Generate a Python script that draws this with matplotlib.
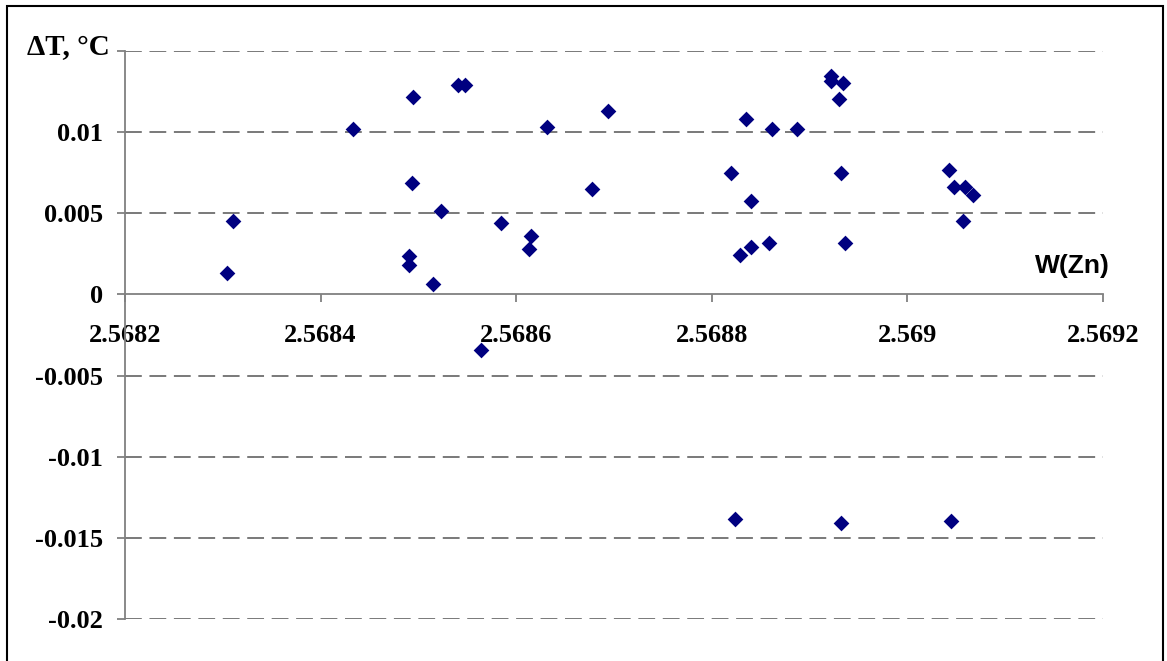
import matplotlib
matplotlib.use("Agg")
import matplotlib.pyplot as plt
from matplotlib.patches import Rectangle

# W(Zn) и ΔT
w_zn = [2.568304, 2.568310, 2.568433, 2.568494, 2.568540, 2.568548,
        2.568694, 2.568631, 2.568835, 2.568862, 2.568493, 2.568523,
        2.568678, 2.568820, 2.568840, 2.568584, 2.568615, 2.568613,
        2.568490, 2.568490, 2.568515, 2.568829, 2.568840, 2.568858,
        2.568564, 2.568922, 2.568922, 2.568934, 2.568930, 2.568887,
        2.568932, 2.568936, 2.569043, 2.569048, 2.569059, 2.569067,
        2.569057, 2.568824, 2.568932, 2.569045]
delta_t = [0.00133, 0.00452, 0.0102, 0.01216, 0.01292, 0.01292,
           0.0113, 0.01033, 0.0108, 0.01019, 0.00688, 0.00513,
           0.00651, 0.00749, 0.00575, 0.00441, 0.00359, 0.00277,
           0.00236, 0.00179, 0.00062, 0.00246, 0.00293, 0.00318,
           -0.00345, 0.01345, 0.01314, 0.01302, 0.01205, 0.01019,
           0.00749, 0.00318, 0.00764, 0.00663, 0.00663, 0.00612,
           0.00452, -0.01383, -0.01407, -0.01395]

x_ticks = [2.5682, 2.5684, 2.5686, 2.5688, 2.569, 2.5692]
x_labels = ['2.5682', '2.5684', '2.5686', '2.5688', '2.569', '2.5692']
y_ticks = [-0.02, -0.015, -0.01, -0.005, 0, 0.005, 0.01, 0.015]
y_labels = ['-0.02', '-0.015', '-0.01', '-0.005', '0', '0.005', '0.01', '']

serif = 'Liberation Serif'
sans = 'Liberation Sans'

fig = plt.figure(figsize=(11.67, 6.61), dpi=100)
ax = fig.add_axes([125 / 1167, 1 - 619 / 661, (1103 - 125) / 1167, (619 - 51) / 661])

# рамка вокруг всей диаграммы
fig.patches.append(Rectangle((7 / 1167, -0.05), (1163 - 7) / 1167, 1 - 6 / 661 + 0.05,
                             transform=fig.transFigure, fill=False,
                             edgecolor='black', linewidth=1.5))

ax.set_xlim(2.5682, 2.5692)
ax.set_ylim(-0.02, 0.015)

for y in y_ticks:
    if y != 0:
        ax.axhline(y, color='#555555', linewidth=1.1, dashes=(11, 5), zorder=0)

ax.scatter(w_zn, delta_t, marker='D', s=64, color='#000080', linewidths=0, zorder=3)

ax.spines['top'].set_visible(False)
ax.spines['right'].set_visible(False)
ax.spines['bottom'].set_position(('data', 0))
ax.spines['left'].set_color('#808080')
ax.spines['bottom'].set_color('#808080')
ax.spines['left'].set_linewidth(1.3)
ax.spines['bottom'].set_linewidth(1.3)

ax.set_xticks(x_ticks)
ax.set_xticklabels(x_labels, fontfamily=serif, fontweight='bold', fontsize=19)
ax.set_yticks(y_ticks)
ax.set_yticklabels(y_labels, fontfamily=serif, fontweight='bold', fontsize=19)
ax.tick_params(axis='x', direction='out', length=6, width=1.3, color='#808080', pad=15)
ax.tick_params(axis='y', direction='out', length=6, width=1.3, color='#808080', pad=10)

fig.text(110 / 1167, 1 - 48 / 661, 'ΔT, °C', ha='right', va='center',
         fontfamily=serif, fontweight='bold', fontsize=21)
fig.text(1072 / 1167, 1 - 266 / 661, 'W(Zn)', ha='center', va='center',
         fontfamily=sans, fontweight='bold', fontsize=19)

fig.savefig('out.png', dpi=100)
